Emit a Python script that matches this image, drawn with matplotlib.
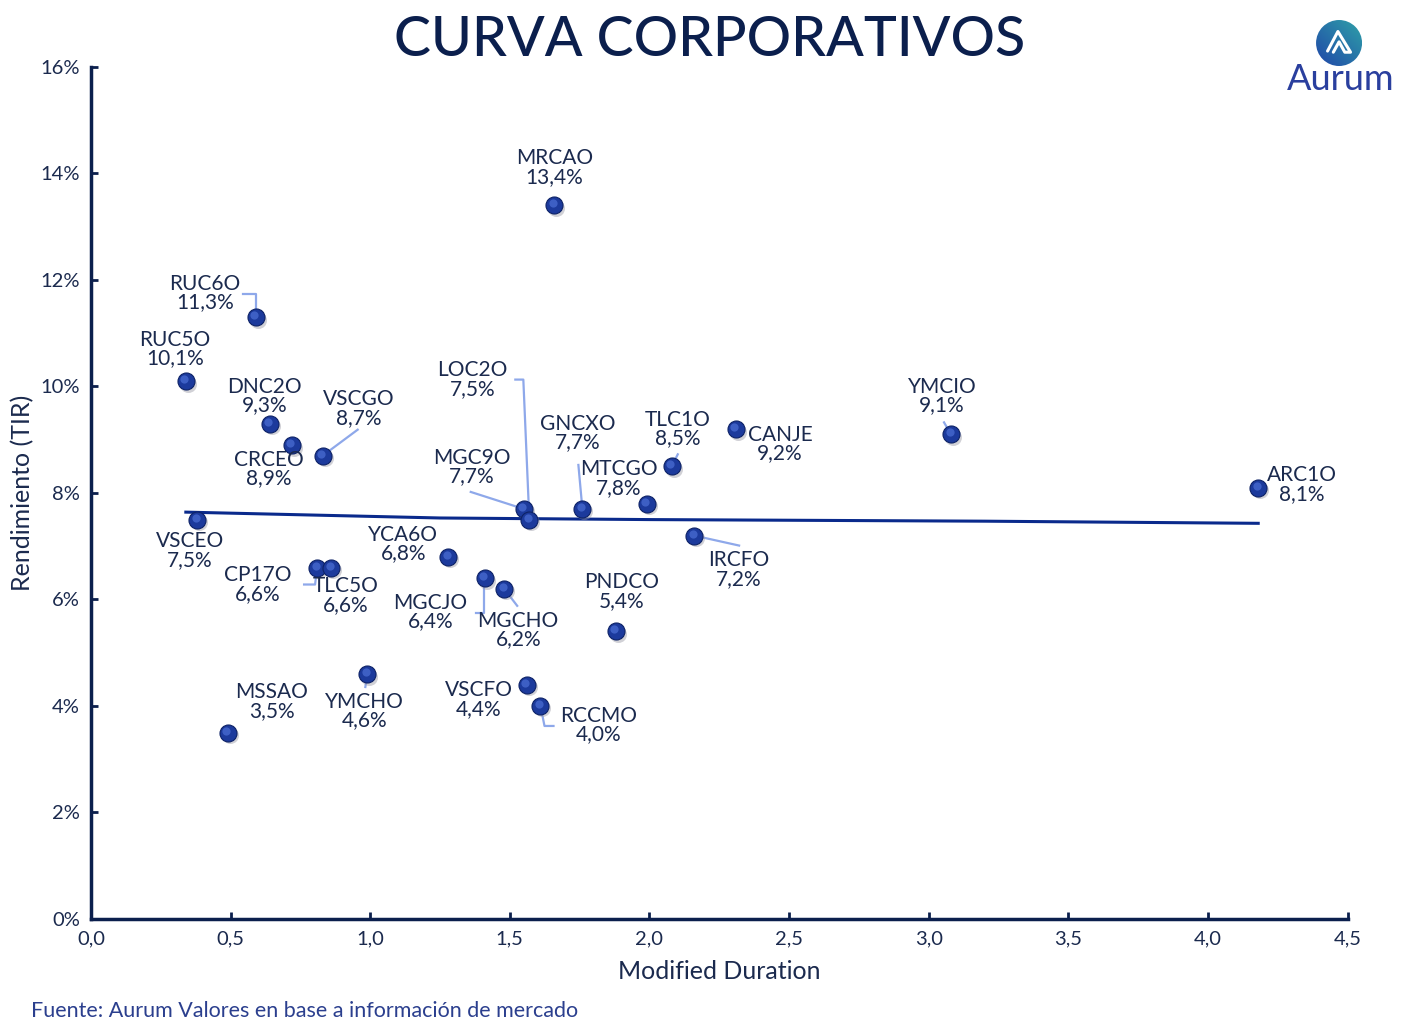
import matplotlib
matplotlib.use("Agg")
import matplotlib.pyplot as plt
import numpy as np
from matplotlib.patches import Circle

# data
names = ["MRCAO", "RUC6O", "RUC5O", "DNC2O", "CRCEO", "VSCGO", "VSCEO", "CP17O",
         "TLC5O", "YCA6O", "MGCJO", "MGCHO", "MGC9O", "LOC2O", "GNCXO", "MTCGO",
         "TLC1O", "CANJE", "IRCFO", "PNDCO", "YMCIO", "ARC1O", "MSSAO", "YMCHO",
         "VSCFO", "RCCMO"]
duration = [1.66, 0.59, 0.34, 0.64, 0.72, 0.83, 0.38, 0.81,
            0.86, 1.28, 1.41, 1.48, 1.55, 1.57, 1.76, 1.99,
            2.08, 2.31, 2.16, 1.88, 3.08, 4.18, 0.49, 0.99,
            1.56, 1.61]
yields = [13.4, 11.3, 10.1, 9.3, 8.9, 8.7, 7.5, 6.6,
          6.6, 6.8, 6.4, 6.2, 7.7, 7.5, 7.7, 7.8,
          8.5, 9.2, 7.2, 5.4, 9.1, 8.1, 3.5, 4.6,
          4.4, 4.0]
# trend line as drawn in the reference
trend_x = [0.34, 1.25, 2.0, 3.2, 4.18]
trend_y = [7.64, 7.53, 7.50, 7.47, 7.43]
xticks = [0.0, 0.5, 1.0, 1.5, 2.0, 2.5, 3.0, 3.5, 4.0, 4.5]
yticks = [0, 2, 4, 6, 8, 10, 12, 14, 16]

# label offsets from the point, in pixels (x right, y up)
label_off = {
    "MRCAO": (0, 38), "RUC6O": (-51, 24), "RUC5O": (-11, 32), "DNC2O": (-5, 28),
    "VSCGO": (36, 47), "CRCEO": (-23, -24), "MGC9O": (-52, 42), "LOC2O": (-57, 140),
    "GNCXO": (-5, 76), "MTCGO": (-28, 25), "TLC1O": (6, 37), "CANJE": (44, -15),
    "YMCIO": (-9, 38), "ARC1O": (44, 3), "IRCFO": (45, -34), "PNDCO": (6, 40),
    "VSCEO": (-7, -31), "YCA6O": (-45, 13), "CP17O": (-59, -17), "TLC5O": (15, -28),
    "MGCJO": (-54, -34), "MGCHO": (14, -41), "MSSAO": (44, 31), "YMCHO": (-3, -37),
    "VSCFO": (-48, -15), "RCCMO": (58, -19),
}
# leader lines, waypoints in pixels relative to the point
leaders = {
    "RUC6O": [(-13, 23), (0, 23), (0, 0)],
    "VSCGO": [(35, 26), (0, 0)],
    "MGC9O": [(-53, 17), (0, 0)],
    "LOC2O": [(-14, 140), (-6, 140), (0, 0)],
    "GNCXO": [(-4, 44), (0, 0)],
    "TLC1O": [(6, 12), (0, 0)],
    "YMCIO": [(-7, 12), (0, 0)],
    "IRCFO": [(45, -10), (0, 0)],
    "CP17O": [(-13, -17), (-2, -17), (0, 0)],
    "MGCJO": [(-9, -35), (-1, -35), (-1, 0)],
    "MGCHO": [(13, -17), (0, 0)],
    "YMCHO": [(-2, -13), (0, 0)],
    "RCCMO": [(13, -20), (4, -20), (0, 0)],
}

navy = "#0b1f4d"
text_c = "#1b2a4e"
dot_c = "#1c3a9c"
leader_c = "#8ea8ea"

plt.rcParams["font.family"] = ["Lato", "DejaVu Sans"]

fig = plt.figure(figsize=(14.2, 10.3), dpi=100)
ax = fig.add_axes([0.064, 0.1078, 0.885, 0.8272])
ax.set_xlim(0, 4.5)
ax.set_ylim(0, 16)

x = np.array(duration)
y = np.array(yields)

ax.plot(trend_x, trend_y, color="#0a2a8c", lw=2.2, zorder=2)

# px -> data scale
px_x = 4.5 / (0.885 * 1420)
px_y = 16 / (0.8272 * 1030)

for n, (dx, dy) in label_off.items():
    i = names.index(n)
    if n in leaders:
        pts = leaders[n]
        ax.plot([x[i] + p[0] * px_x for p in pts], [y[i] + p[1] * px_y for p in pts],
                color=leader_c, lw=1.6, zorder=1)
    lbl = n + "\n" + f"{yields[i]:.1f}".replace(".", ",") + "%"
    ax.annotate(lbl, (x[i], y[i]), xytext=(dx, dy), textcoords="offset pixels",
                ha="center", va="center", fontsize=15, color=text_c,
                linespacing=0.9, zorder=5)

# sphere-like markers: shadow, body, highlight
ax.scatter(x + 2 * px_x, y - 2.5 * px_y, s=150, color="#9a9aa6", alpha=0.45, lw=0, zorder=3)
ax.scatter(x, y, s=150, color=dot_c, edgecolors="#0d2266", linewidths=0.8, zorder=4)
ax.scatter(x - 1.5 * px_x, y + 2 * px_y, s=35, color="#4c6fd6", alpha=0.7, lw=0, zorder=4)

ax.set_xticks(xticks)
ax.set_xticklabels([f"{t:.1f}".replace(".", ",") for t in xticks])
ax.set_yticks(yticks)
ax.set_yticklabels([f"{t}%" for t in yticks])
ax.tick_params(direction="in", length=5, width=2, color=navy, labelsize=14.5,
               labelcolor=text_c, pad=8)
for s in ["top", "right"]:
    ax.spines[s].set_visible(False)
for s in ["left", "bottom"]:
    ax.spines[s].set_color(navy)
    ax.spines[s].set_linewidth(2.5)

ax.set_xlabel("Modified Duration", fontsize=18, color=text_c, labelpad=9)
ax.set_ylabel("Rendimiento (TIR)", fontsize=18, color=text_c, labelpad=4)

fig.text(0.5, 0.961, "CURVA CORPORATIVOS", ha="center", va="center",
         fontsize=40, color=navy, fontweight="medium")
fig.text(0.022, 0.018, "Fuente: Aurum Valores en base a información de mercado",
         ha="left", va="center", fontsize=15.5, color="#2b3f8e")

# logo
lax = fig.add_axes([0.9268, 0.9359, 0.0324, 0.0447])
lax.set_xlim(-1, 1)
lax.set_ylim(-1, 1)
lax.set_aspect("equal")
lax.axis("off")
gx, gy = np.meshgrid(np.linspace(-1, 1, 100), np.linspace(-1, 1, 100))
grad = (gx + gy) / 2
img = lax.imshow(grad, extent=[-1, 1, -1, 1], origin="lower",
                 cmap=matplotlib.colors.LinearSegmentedColormap.from_list("lg", ["#2046a8", "#2fa3a8"]))
circ = Circle((0, 0), 1, transform=lax.transData)
img.set_clip_path(circ)
lax.plot([-0.5, -0.05, 0.5, 0.25, 0.0, -0.25], [-0.35, 0.5, -0.4, -0.4, 0.05, -0.4],
         color="white", lw=2.2, solid_joinstyle="round", solid_capstyle="round")
fig.text(0.944, 0.923, "Aurum", ha="center", va="center", fontsize=26, color="#2a3f9e")

fig.savefig("out.png", dpi=100)
